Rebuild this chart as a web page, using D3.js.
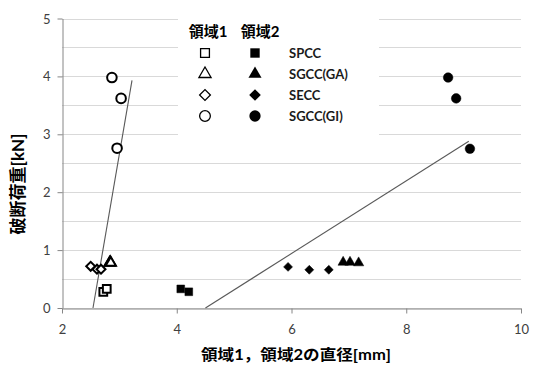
<!DOCTYPE html>
<html>
<head>
<meta charset="utf-8">
<script src="https://cdn.jsdelivr.net/npm/d3@7"></script>
<style>
  body { margin: 0; background: #fff; }
  svg { display: block; }
  text { font-family: Lato, "Noto Sans CJK JP", sans-serif; }
</style>
</head>
<body>
<svg id="chart"></svg>
<script>
// series names, region 1 = open markers, region 2 = filled markers
const series = ["SPCC", "SGCC(GA)", "SECC", "SGCC(GI)"]

// [diameter mm, load kN]
const region1 = [
  [[2.72, 0.28], [2.78, 0.33]],
  [[2.83, 0.78], [2.84, 0.79], [2.85, 0.78]],
  [[2.50, 0.72], [2.61, 0.67], [2.68, 0.67]],
  [[2.87, 3.98], [3.03, 3.62], [2.96, 2.76]]
]
const region2 = [
  [[4.07, 0.33], [4.21, 0.28]],
  [[6.90, 0.79], [7.02, 0.79], [7.17, 0.78]],
  [[5.94, 0.71], [6.31, 0.66], [6.65, 0.66]],
  [[8.73, 3.98], [8.87, 3.62], [9.11, 2.75]]
]
// approximate linear trend lines as drawn
const trend1 = [[2.54, 0], [3.22, 3.93]]
const trend2 = [[4.50, 0], [9.09, 2.88]]

const xTicks = [2, 4, 6, 8, 10]
const yTicks = [0, 1, 2, 3, 4, 5]
const yGrid = d3.range(0, 5.01, 0.5)

const WIDTH = 534, HEIGHT = 365
const MARGIN = {top: 18.5, left: 62, bottom: 57, right: 13}

const svg = d3.select("#chart").attr("width", WIDTH).attr("height", HEIGHT)

const x = d3.scaleLinear().domain([2, 10]).range([MARGIN.left, WIDTH - MARGIN.right])
const y = d3.scaleLinear().domain([0, 5]).range([HEIGHT - MARGIN.bottom, MARGIN.top])

// marker shapes: square, triangle, diamond (rotated square), circle
const marks = [
  {type: d3.symbolSquare, size: 60, rot: 0},
  {type: d3.symbolTriangle, size: 46, rot: 0},
  {type: d3.symbolSquare, size: 40, rot: 45},
  {type: d3.symbolCircle, size: 72, rot: 0}
]

// gridlines
svg.append("g").selectAll("line").data(yGrid).join("line")
  .attr("x1", x(2)).attr("x2", x(10))
  .attr("y1", d => Math.round(y(d)) + 0.5).attr("y2", d => Math.round(y(d)) + 0.5)
  .attr("stroke", "#d9d9d9").attr("stroke-width", 1)

// axes
const xAxis = svg.append("g")
  .attr("transform", `translate(0,${Math.round(y(0)) + 0.5})`)
  .call(d3.axisBottom(x).tickValues(xTicks).tickSize(5).tickSizeOuter(0).tickFormat(d3.format("d")))
const yAxis = svg.append("g")
  .attr("transform", `translate(${Math.round(x(2)) + 0.5},0)`)
  .call(d3.axisLeft(y).tickValues(yTicks).tickSize(5).tickSizeOuter(0).tickFormat(d3.format("d")))

for (const ax of [xAxis, yAxis]) {
  ax.select(".domain").attr("stroke", "#868686")
  ax.selectAll(".tick line").attr("stroke", "#868686")
  ax.selectAll(".tick text").attr("fill", "#404040").style("font-size", "13px")
}
xAxis.selectAll(".tick text").attr("dy", "1.35em")
yAxis.selectAll(".tick text").attr("x", -12).attr("dy", "0.35em")

// legend background hides gridlines behind it
svg.append("rect")
  .attr("x", 178).attr("y", 10).attr("width", 201).attr("height", 127)
  .attr("fill", "#fff")

// trend lines
const line = d3.line().x(d => x(d[0])).y(d => y(d[1]))
svg.append("g").selectAll("path").data([trend1, trend2]).join("path")
  .attr("d", line).attr("fill", "none")
  .attr("stroke", "#595959").attr("stroke-width", 1.1)

function drawMarkers(data, filled) {
  data.forEach((pts, i) => {
    const m = marks[i]
    svg.append("g").selectAll("path").data(pts).join("path")
      .attr("transform", d => `translate(${x(d[0])},${y(d[1])}) rotate(${m.rot})`)
      .attr("d", d3.symbol().type(m.type).size(m.size))
      .attr("fill", filled ? "#000" : "#fff")
      .attr("stroke", "#000")
      .attr("stroke-width", filled ? 0.5 : 2)
  })
}
drawMarkers(region1, false)
drawMarkers(region2, true)

// legend
const legend = svg.append("g")
legend.append("text").attr("x", 208).attr("y", 37).attr("text-anchor", "middle")
  .style("font-size", "15px").style("font-weight", "bold").text("領域1")
legend.append("text").attr("x", 260).attr("y", 37).attr("text-anchor", "middle")
  .style("font-size", "15px").style("font-weight", "bold").text("領域2")

const rowY = d3.scalePoint().domain(series).range([53, 116])
series.forEach((s, i) => {
  const m = marks[i]
  legend.append("path")
    .attr("transform", `translate(205,${rowY(s)}) rotate(${m.rot})`)
    .attr("d", d3.symbol().type(m.type).size(m.size + 18))
    .attr("fill", "#fff").attr("stroke", "#000").attr("stroke-width", 1.3)
  legend.append("path")
    .attr("transform", `translate(255,${rowY(s)}) rotate(${m.rot})`)
    .attr("d", d3.symbol().type(m.type).size(m.size + 28))
    .attr("fill", "#000")
  legend.append("text")
    .attr("x", 289).attr("y", rowY(s)).attr("dy", "0.35em")
    .style("font-size", "13px").style("font-weight", "bold").attr("fill", "#1a1a1a")
    .text(s)
})

// axis titles
svg.append("text")
  .attr("x", 296).attr("y", 360).attr("text-anchor", "middle")
  .style("font-size", "15px").style("font-weight", "bold")
  .attr("textLength", 190).attr("lengthAdjust", "spacingAndGlyphs")
  .text("領域1，領域2の直径[mm]")

svg.append("text")
  .attr("transform", "translate(24,184) rotate(-90)")
  .attr("text-anchor", "middle")
  .style("font-size", "17px").style("font-weight", "bold")
  .text("破断荷重[kN]")
</script>
</body>
</html>
